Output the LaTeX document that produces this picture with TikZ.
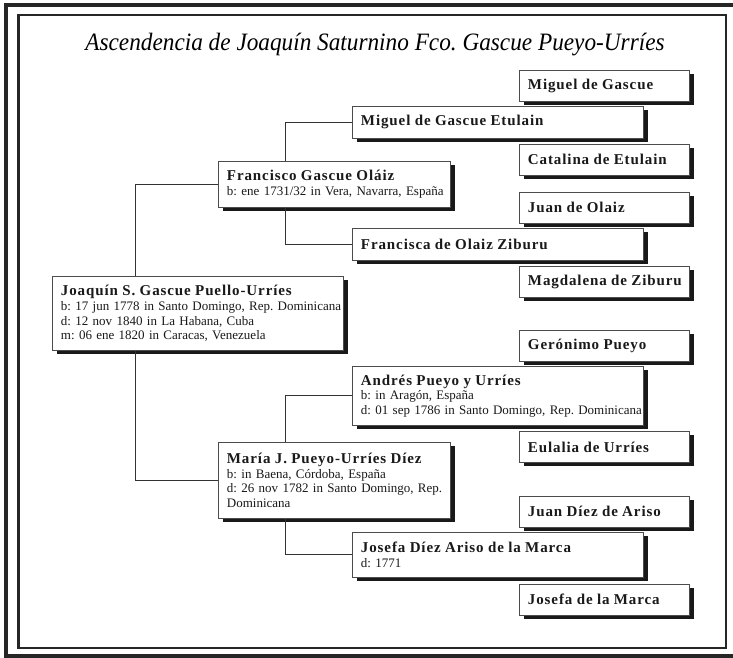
\documentclass[tikz,border=0pt]{standalone}
\usepackage{fontspec}
\usepackage{graphicx}
\setmainfont{Liberation Serif}
\newfontfamily\nmfont[LetterSpace=6.0]{Liberation Serif}
\usetikzlibrary{shadows}
\frenchspacing
\newcommand{\nm}[1]{\mbox{\nmfont\bfseries\fontsize{15}{14.5}\selectfont #1}}
\newcommand{\dl}[1]{\mbox{#1}}
\tikzset{
  frame/.style={draw=black!85},
  conn/.style={draw=black!80, line width=1pt},
  pbox/.style={draw=black!70, line width=0.9pt, fill=white, rectangle,
    anchor=north west, inner xsep=8.5pt, inner ysep=0pt, align=left,
    font=\frenchspacing\fontsize{13}{14.7}\selectfont, text=black!90,
    drop shadow={shadow xshift=4.5pt, shadow yshift=-4pt, opacity=1, fill=black!90}},
  gone/.style={pbox, text width=274pt},
  gtwo/.style={pbox, text width=215pt},
  gthree/.style={pbox, text width=274pt},
  gfour/.style={pbox, text width=153pt, minimum height=31pt}
}
\begin{document}
\begin{tikzpicture}[x=1pt,y=-1pt]
\useasboundingbox (0,0) rectangle (733,658);
\draw[frame, line width=3.5pt] (6,5) rectangle (742,656);
\draw[frame, line width=2.5pt] (18.5,15) rectangle (726,648);
\node[text=black] (title) at (375,45) {\scalebox{0.93}[1]{\fontsize{25}{25}\selectfont\itshape Ascendencia de Joaquín Saturnino Fco. Gascue Pueyo-Urríes}};

% generation 1
\node[gone, minimum height=74pt] (jq) at (52,276) {\nm{Joaquín S. Gascue Puello-Urríes}\\
\dl{b: 17 jun 1778 in Santo Domingo, Rep. Dominicana}\\
\dl{d: 12 nov 1840 in La Habana, Cuba}\\
\dl{m: 06 ene 1820 in Caracas, Venezuela}};

% generation 2
\node[gtwo, minimum height=46pt] (fg) at (218,161) {\nm{Francisco Gascue Oláiz}\\
\dl{b: ene 1731/32 in Vera, Navarra, España}};
\node[gtwo, minimum height=76pt] (mp) at (218,442) {\nm{María J. Pueyo-Urríes Díez}\\
\dl{b: in Baena, Córdoba, España}\\
\dl{d: 26 nov 1782 in Santo Domingo, Rep.}\\
\dl{Dominicana}};

% generation 3
\node[gthree, minimum height=32pt] (mge) at (352,106) {\nm{Miguel de Gascue Etulain}};
\node[gthree, minimum height=32pt] (foz) at (352,228) {\nm{Francisca de Olaiz Ziburu}};
\node[gthree, minimum height=59pt] (apu) at (352,366) {\nm{Andrés Pueyo y Urríes}\\
\dl{b: in Aragón, España}\\
\dl{d: 01 sep 1786 in Santo Domingo, Rep. Dominicana}};
\node[gthree, minimum height=45pt] (jda) at (352,532) {\nm{Josefa Díez Ariso de la Marca}\\
\dl{d: 1771}};

% generation 4
\node[gfour] (mg) at (519,70) {\nm{Miguel de Gascue}};
\node[gfour] (ce) at (519,143.5) {\nm{Catalina de Etulain}};
\node[gfour] (jo) at (519,191.5) {\nm{Juan de Olaiz}};
\node[gfour] (mz) at (519,265.5) {\nm{Magdalena de Ziburu}};
\node[gfour] (gp) at (519,329.5) {\nm{Gerónimo Pueyo}};
\node[gfour] (eu) at (519,431) {\nm{Eulalia de Urríes}};
\node[gfour] (jd) at (519,495.5) {\nm{Juan Díez de Ariso}};
\node[gfour] (jm) at (519,583.5) {\nm{Josefa de la Marca}};

% connectors
\draw[conn] ([xshift=83pt]jq.north west) |- (fg.west);
\draw[conn] ([xshift=83pt]jq.south west) |- (mp.west);
\draw[conn] ([xshift=67pt]fg.north west) |- (mge.west);
\draw[conn] ([xshift=67pt]fg.south west) |- (foz.west);
\draw[conn] ([xshift=67pt]mp.north west) |- (apu.west);
\draw[conn] ([xshift=67pt]mp.south west) |- (jda.west);
\end{tikzpicture}
\end{document}
